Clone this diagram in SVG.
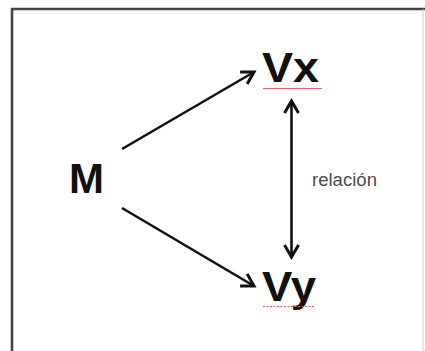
<svg xmlns="http://www.w3.org/2000/svg" width="425" height="351" viewBox="0 0 425 351">
  <style>
    .big { font-family: "Liberation Sans", Arial, sans-serif; font-weight: bold; font-size: 42px; fill: #111; }
    .lbl { font-family: "Liberation Sans", Arial, sans-serif; font-size: 17.5px; fill: #4a4a4a; }
    .conn { stroke: #111; stroke-width: 2.6; fill: none; }
    .squig { stroke: #e8606e; stroke-width: 1; fill: none; }
  </style>
  <defs>
    <marker id="head" markerUnits="userSpaceOnUse" viewBox="-16 -10 20 20" refX="0" refY="0" markerWidth="20" markerHeight="20" orient="auto-start-reverse">
      <path d="M-12,-7 L0,0 L-12,7" stroke="#111" stroke-width="3" fill="none" stroke-linejoin="miter"/>
    </marker>
  </defs>
  <rect width="425" height="351" fill="#fff"/>
  <g id="frame">
    <line x1="12" y1="8.5" x2="12" y2="351" stroke="#444" stroke-width="2.6"/>
    <line x1="11" y1="9" x2="425" y2="9" stroke="#444" stroke-width="2.6"/>
    <line x1="423" y1="9" x2="423" y2="351" stroke="#ccc" stroke-width="1"/>
  </g>
  <g id="connectors">
    <line class="conn" x1="122" y1="149" x2="254" y2="72" marker-end="url(#head)"/>
    <line class="conn" x1="122" y1="208" x2="254" y2="286" marker-end="url(#head)"/>
    <line class="conn" x1="291.5" y1="101" x2="291.5" y2="257" marker-start="url(#head)" marker-end="url(#head)"/>
    <text class="lbl" x="312" y="186" textLength="65" lengthAdjust="spacingAndGlyphs">relación</text>
  </g>
  <g id="node-M">
    <text class="big" x="69" y="193">M</text>
  </g>
  <g id="node-Vx">
    <text class="big" x="262" y="82" textLength="57" lengthAdjust="spacingAndGlyphs">Vx</text>
    <line class="squig" x1="263" y1="88.5" x2="322" y2="88.5"/>
  </g>
  <g id="node-Vy">
    <text class="big" x="262" y="301" textLength="54" lengthAdjust="spacingAndGlyphs">Vy</text>
    <line class="squig" x1="263" y1="306.5" x2="315" y2="306.5" stroke-dasharray="2 1.5"/>
  </g>
</svg>
